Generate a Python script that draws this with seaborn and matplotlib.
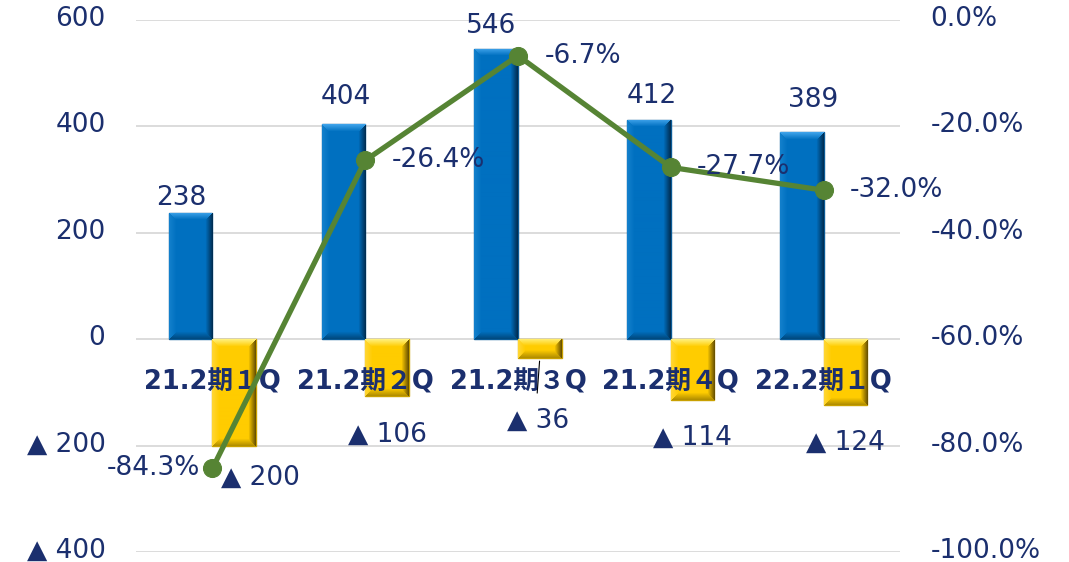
import matplotlib
matplotlib.use("Agg")
import matplotlib.pyplot as plt
import matplotlib.transforms as mtransforms
import seaborn as sns
import pandas as pd
import numpy as np

categories = ["21.2期１Q", "21.2期２Q", "21.2期３Q", "21.2期４Q", "22.2期１Q"]
sales = [238, 404, 546, 412, 389]
profit = [-200, -106, -36, -114, -124]
ratio = [-84.3, -26.4, -6.7, -27.7, -32.0]
left_ticks = [600, 400, 200, 0, -200, -400]
right_ticks = [0, -20, -40, -60, -80, -100]

NAVY = "#1b2f6e"
BLUE = "#0070c0"
GOLD = "#ffcc00"
GREEN = "#568434"

BEVEL = {
    BLUE: dict(top="#3fa3ea", left="#1380cc", right="#002f55", bottom="#004a80", edge="#0a5a96"),
    GOLD: dict(top="#fff07a", left="#ffd633", right="#6b5300", bottom="#b38f00", edge="#c9a000"),
}

sns.set_theme(style="white")
plt.rcParams["font.family"] = ["DejaVu Sans", "Noto Sans CJK JP"]

df = pd.DataFrame({
    "cat": categories * 2,
    "value": sales + profit,
    "series": ["sales"] * 5 + ["profit"] * 5,
})

fig = plt.figure(figsize=(10.69, 5.62), dpi=100)
ax = fig.add_axes([136 / 1069, 1 - 552 / 562, (900 - 136) / 1069, (552 - 20) / 562])

sns.barplot(data=df, x="cat", y="value", hue="series", order=categories,
            hue_order=["sales", "profit"], palette=[BLUE, GOLD], saturation=1,
            width=0.57, gap=0, legend=False, ax=ax, zorder=3)

ax.set_ylim(-400, 600)
ax.set_xlim(-0.5, len(categories) - 0.5)


def hex2rgb(h):
    h = h.lstrip("#")
    return np.array([int(h[i:i + 2], 16) for i in (0, 2, 4)]) / 255.0


def bevel_image(wpx, hpx, base, sty, b=7):
    base = hex2rgb(base)
    cols = {k: hex2rgb(v) for k, v in sty.items()}
    img = np.tile(base, (hpx, wpx, 1))
    jj, ii = np.meshgrid(np.arange(wpx), np.arange(hpx))
    dl, dr, dt, db = jj, wpx - 1 - jj, ii, hpx - 1 - ii
    d = np.stack([dt, dl, dr, db])
    which = np.argmin(d, axis=0)
    dmin = np.min(d, axis=0)
    names = ["top", "left", "right", "bottom"]
    for k, n in enumerate(names):
        m = (which == k) & (dmin < b)
        t = (dmin[m] / b)[:, None]
        img[m] = cols[n] * (1 - t) + base * t
    return img


for cont, base in zip(ax.containers, [BLUE, GOLD]):
    for patch in cont:
        x0, y0 = patch.get_x(), patch.get_y()
        w, h = patch.get_width(), patch.get_height()
        xa, ya = min(x0, x0 + w), min(y0, y0 + h)
        xb, yb = max(x0, x0 + w), max(y0, y0 + h)
        p0 = ax.transData.transform((xa, ya))
        p1 = ax.transData.transform((xb, yb))
        wpx = max(int(round(p1[0] - p0[0])), 2)
        hpx = max(int(round(p1[1] - p0[1])), 2)
        img = bevel_image(wpx, hpx, base, BEVEL[base])
        im = ax.imshow(img, extent=(xa, xb, ya, yb), origin="upper",
                       aspect="auto", zorder=3.5, interpolation="bilinear")
        im.set_clip_path(patch)
        patch.set_edgecolor(BEVEL[base]["edge"])
        patch.set_linewidth(1.0)

ax.set_ylim(-400, 600)
ax.set_xlim(-0.5, len(categories) - 0.5)
ax.set_yticks(left_ticks)
ax.set_yticklabels([f"{v}" if v >= 0 else f"▲ {-v}" for v in left_ticks])
ax.yaxis.grid(True, color="#d9d9d9", linewidth=1.3, zorder=0)
ax.set_axisbelow(True)
ax.tick_params(axis="y", length=0, pad=22, labelsize=19, labelcolor=NAVY)
ax.set_xticks([])
ax.set_xlabel("")
ax.set_ylabel("")
for s in ax.spines.values():
    s.set_visible(False)

shift = mtransforms.ScaledTranslation(0, 4 / 100, fig.dpi_scale_trans)
for lab in ax.get_yticklabels():
    lab.set_transform(lab.get_transform() + shift)

# category labels near the zero line
for i, c in enumerate(categories):
    ax.annotate(c, xy=(i, 0), xytext=(0, -31), textcoords="offset points",
                ha="center", va="center", fontsize=18.5, fontweight="bold",
                color=NAVY, zorder=6)

# value labels
pos_offsets = [(-7, 1.5), (1.5, 10), (-4, 7), (2, 8), (8, 14)]
for patch, v, (dx, dy) in zip(ax.containers[0], sales, pos_offsets):
    ax.annotate(f"{v}", xy=(patch.get_x() + patch.get_width() / 2, v),
                xytext=(dx, dy), textcoords="offset points", ha="center",
                va="bottom", fontsize=19, color=NAVY, zorder=6)

neg_offsets = [(19, -23), (0, -28), (-1, -45), (0, -27), (0, -27)]
for patch, v, (dx, dy) in zip(ax.containers[1], profit, neg_offsets):
    xc = patch.get_x() + patch.get_width() / 2
    ax.annotate(f"▲ {-v}", xy=(xc, v), xytext=(dx, dy), textcoords="offset points",
                ha="center", va="center", fontsize=19, color=NAVY, zorder=6)
# leader line for the small bar
p3 = ax.containers[1][2]
ax.annotate("", xy=(p3.get_x() + p3.get_width() / 2, profit[2]), xytext=(-2, -27),
            textcoords="offset points",
            arrowprops=dict(arrowstyle="-", color="black", lw=0.8), zorder=6)

# ratio line on secondary axis
ax2 = ax.twinx()
xs = np.arange(len(categories))
sns.lineplot(x=xs, y=ratio, ax=ax2, color=GREEN, linewidth=3.8, marker="o",
             markersize=13, markeredgecolor=GREEN, zorder=5)
ax2.set_ylim(-100, 0)
ax2.set_yticks(right_ticks)
ax2.set_yticklabels([f"{v:.1f}%" for v in right_ticks])
ax2.tick_params(axis="y", length=0, pad=22, labelsize=19, labelcolor=NAVY)
ax2.grid(False)
for s in ax2.spines.values():
    s.set_visible(False)
for lab in ax2.get_yticklabels():
    lab.set_transform(lab.get_transform() + shift)

line_offsets = [(-9, 0, "right"), (19, 0, "left"), (19, 0, "left"), (19, 0, "left"), (19, 0, "left")]
for x, r, (dx, dy, ha) in zip(xs, ratio, line_offsets):
    ax2.annotate(f"{r:.1f}%", xy=(x, r), xytext=(dx, dy), textcoords="offset points",
                 ha=ha, va="center", fontsize=19, color=NAVY, zorder=7)

fig.savefig("out.png", dpi=100)
